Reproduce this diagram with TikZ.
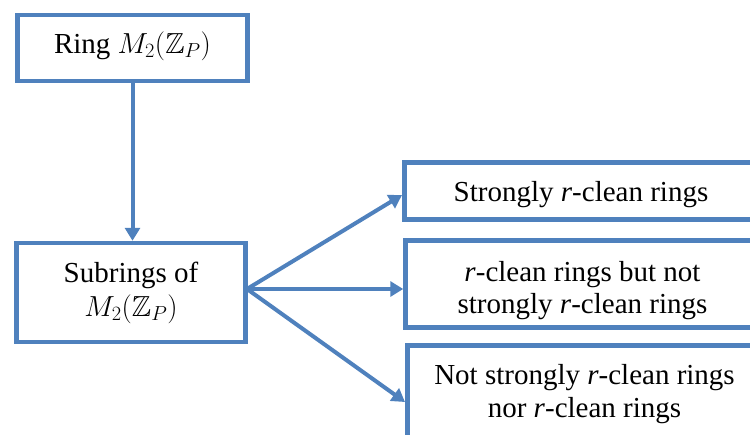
\RequirePackage{fix-cm}
\documentclass[tikz,border=0pt]{standalone}
\usepackage{amssymb}
\usepackage{fontspec}
\setmainfont{Liberation Serif}
\usetikzlibrary{arrows.meta}
\definecolor{boxblue}{RGB}{79,129,189}
\begin{document}
\begin{tikzpicture}[x=1pt,y=-1pt,
 frame/.style={draw=boxblue, line width=4.5pt, fill=white, inner sep=0pt},
 txt/.style={inner sep=0pt, align=center, text=black, font=\fontsize{29}{#1}\selectfont},
 txt/.default=32,
 conn/.style={draw=boxblue, line width=4pt, -{Triangle[width=15pt,length=13pt]}}]
\useasboundingbox (0,0) rectangle (750,434);
\clip (0,0) rectangle (750,434);
\node[frame, minimum width=230pt, minimum height=66pt] (ringbox) at (132.5,48) {};
\node[txt] (ring) at (132.5,46) {Ring $M_2(\mathbb{Z}_P)$};
\node[frame, minimum width=229pt, minimum height=99pt] (subbox) at (131,292.5) {};
\node[txt=34] (sub) at (131,292.5) {Subrings of\\ $M_2(\mathbb{Z}_P)$};
\node[frame, minimum width=353pt, minimum height=57pt] (srbox) at (581,191) {};
\node[txt] (sr) at (581,195) {Strongly \textit{r}-clean rings};
\node[frame, minimum width=354pt, minimum height=87pt] (rcbox) at (582.5,284) {};
\node[txt=32] (rc) at (582.5,291) {\textit{r}-clean rings but not\\ strongly \textit{r}-clean rings};
\node[frame, minimum width=354pt, minimum height=93pt] (nrbox) at (584.5,392) {};
\node[txt=33] (nr) at (584.5,394.5) {Not strongly \textit{r}-clean rings\\ nor \textit{r}-clean rings};
\coordinate (src) at (247,289);
\coordinate (t1) at (402,195);
\coordinate (t3) at (405,402);
\draw[conn] (ringbox.south) -- (ringbox.south |- subbox.north);
\draw[conn] (src) -- (t1);
\draw[conn] (src) -- (src -| rcbox.west);
\draw[conn] (src) -- (t3);
\end{tikzpicture}
\end{document}
